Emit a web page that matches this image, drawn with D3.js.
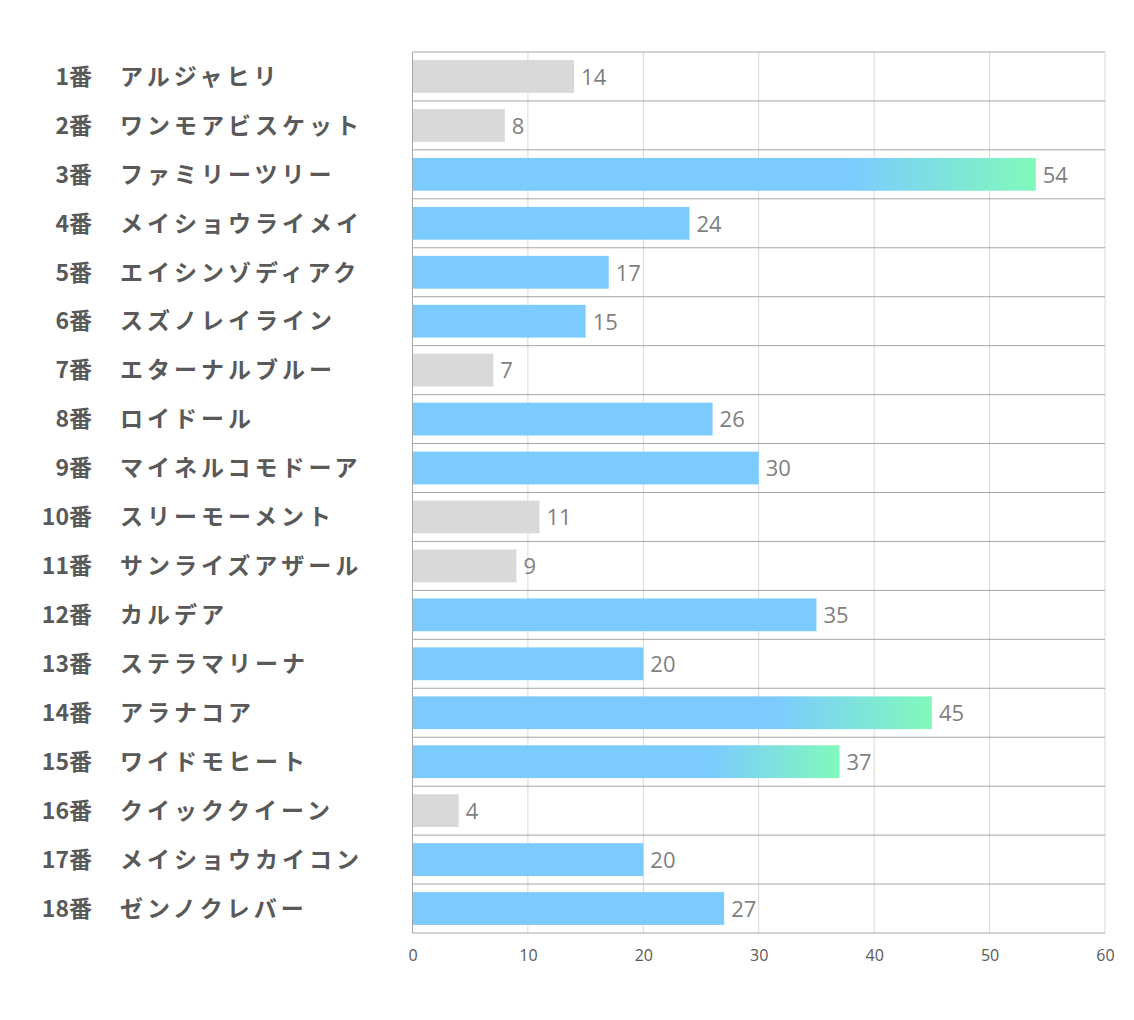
<!DOCTYPE html>
<html><head><meta charset="utf-8">
<script src="https://cdn.jsdelivr.net/npm/d3@7"></script>
<style>body{margin:0;background:#fff}</style>
</head><body>
<script>
const nums = ["1番","2番","3番","4番","5番","6番","7番","8番","9番","10番","11番","12番","13番","14番","15番","16番","17番","18番"];
const names = ["アルジャヒリ","ワンモアビスケット","ファミリーツリー","メイショウライメイ","エイシンゾディアク","スズノレイライン","エターナルブルー","ロイドール","マイネルコモドーア","スリーモーメント","サンライズアザール","カルデア","ステラマリーナ","アラナコア","ワイドモヒート","クイッククイーン","メイショウカイコン","ゼンノクレバー"];
const values = [14,8,54,24,17,15,7,26,30,11,9,35,20,45,37,4,20,27];
const groups = ["gray","gray","grad","blue","blue","blue","gray","blue","blue","gray","gray","blue","blue","grad","grad","gray","blue","blue"];
const ticks = [0,10,20,30,40,50,60];

const W=1134,H=1020;
const m={left:412.5,right:1105,top:52,bottom:933};
const svg=d3.select("body").append("svg").attr("width",W).attr("height",H);
const defs=svg.append("defs");
const g=defs.append("linearGradient").attr("id","grad").attr("x1","0").attr("x2","1").attr("y1","0").attr("y2","0");
g.append("stop").attr("offset","0.7").attr("stop-color","#7ccbfe");
g.append("stop").attr("offset","1").attr("stop-color","#80f9bb");
const fills={gray:"#d9d9d9",blue:"#7ccbfe",grad:"url(#grad)"};

const x=d3.scaleLinear().domain([0,60]).range([m.left,m.right]);
const y=d3.scaleBand().domain(d3.range(nums.length)).range([m.top,m.bottom]).paddingInner(0).paddingOuter(0);
const bh=y.bandwidth()*0.67;

svg.append("g").selectAll("line").data(ticks).join("line")
 .attr("x1",d=>x(d)).attr("x2",d=>x(d)).attr("y1",m.top).attr("y2",m.bottom)
 .attr("stroke","#d9d9d9").attr("stroke-width",1);

svg.append("g").selectAll("rect").data(values).join("rect")
 .attr("x",x(0)).attr("y",(d,i)=>y(i)+(y.bandwidth()-bh)/2)
 .attr("width",d=>x(d)-x(0)).attr("height",bh)
 .attr("fill",(d,i)=>fills[groups[i]]);

svg.append("g").selectAll("line").data(d3.range(nums.length+1)).join("line")
 .attr("x1",m.left).attr("x2",m.right)
 .attr("y1",i=>i<nums.length?y(i):m.bottom).attr("y2",i=>i<nums.length?y(i):m.bottom)
 .attr("stroke","#a6a6a6").attr("stroke-width",1);
svg.append("line").attr("x1",m.left).attr("x2",m.left).attr("y1",m.top).attr("y2",m.bottom).attr("stroke","#a6a6a6");

svg.append("g").selectAll("text").data(values).join("text")
 .attr("x",d=>x(d)+7).attr("y",(d,i)=>y(i)+y.bandwidth()/2)
 .attr("dy","0.38em").attr("font-family","'Open Sans','Noto Sans',sans-serif").attr("font-size",22)
 .attr("fill","#7f7f7f").text(d=>d);

svg.append("g").selectAll("text").data(nums).join("text")
 .attr("x",92).attr("y",(d,i)=>y(i)+y.bandwidth()/2).attr("dy","0.36em")
 .attr("text-anchor","end").attr("font-family","'Noto Sans CJK JP',sans-serif").attr("font-weight","bold")
 .attr("font-size",23).attr("fill","#595959").text(d=>d);
svg.append("g").selectAll("text").data(names).join("text")
 .attr("x",120).attr("y",(d,i)=>y(i)+y.bandwidth()/2).attr("dy","0.36em")
 .attr("font-family","'Noto Sans CJK JP',sans-serif").attr("font-weight","bold")
 .attr("font-size",23).attr("letter-spacing",4).attr("fill","#595959").text(d=>d);

const ax=svg.append("g").attr("transform",`translate(0,${m.bottom})`)
 .call(d3.axisBottom(x).tickValues(ticks).tickSize(0).tickPadding(17));
ax.select(".domain").remove();
ax.selectAll("text").attr("font-family","'Open Sans','Noto Sans',sans-serif").attr("font-size",16).attr("fill","#595959");
</script>
</body></html>
